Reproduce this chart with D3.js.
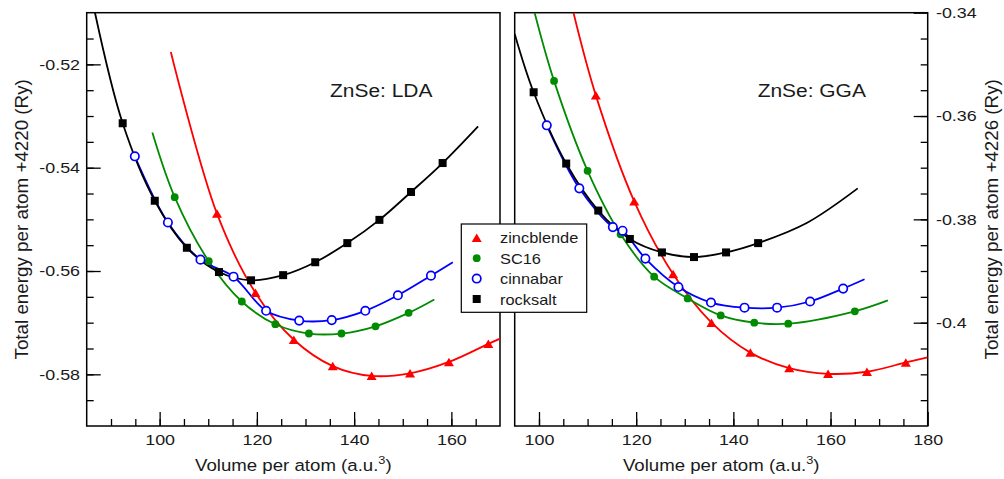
<!DOCTYPE html>
<html>
<head>
<meta charset="utf-8">
<script src="https://cdn.jsdelivr.net/npm/d3@7"></script>
<style>
body { margin: 0; background: #fff; }
svg { display: block; }
text { font-family: "Liberation Sans", Arial, sans-serif; fill: #1a1a1a; }
</style>
</head>
<body>
<script>
// Size of the page
var width = 1004;
var height = 479;

// Series names shown in the legend
var seriesNames = ["zincblende", "SC16", "cinnabar", "rocksalt"];

// Tick labels
var xTicksLda = [100, 120, 140, 160];
var xTicksGga = [100, 120, 140, 160, 180];
var yTicksLda = [-0.58, -0.56, -0.54, -0.52];
var yTicksGga = [-0.4, -0.38, -0.36, -0.34];

// LDA points (volume, energy)
var zbLdaV = [111.8, 119.7, 127.6, 135.6, 143.6, 151.5, 159.5, 167.6];
var zbLdaE = [-0.5489, -0.5642, -0.5733, -0.5784, -0.5803, -0.5798, -0.5776, -0.5741];
var scLdaV = [103.1, 110.1, 116.9, 123.8, 130.7, 137.4, 144.4, 151.2];
var scLdaE = [-0.5457, -0.5581, -0.5659, -0.5703, -0.5721, -0.5721, -0.5707, -0.5681];
var ciLdaV = [94.9, 101.7, 108.4, 115.2, 121.9, 128.7, 135.4, 142.3, 149.0, 155.8];
var ciLdaE = [-0.5378, -0.5506, -0.5578, -0.5611, -0.5677, -0.5696, -0.5695, -0.5677, -0.5647, -0.5609];
var rsLdaV = [92.4, 99.0, 105.6, 112.2, 118.8, 125.4, 132.0, 138.6, 145.2, 151.7, 158.2];
var rsLdaE = [-0.5314, -0.5464, -0.5555, -0.5602, -0.5618, -0.5608, -0.5583, -0.5546, -0.5501, -0.5447, -0.5391];

// GGA points (volume, energy)
var zbGgaV = [111.7, 119.6, 127.6, 135.5, 143.5, 151.5, 159.5, 167.5, 175.5];
var zbGgaE = [-0.3560, -0.3765, -0.3906, -0.4000, -0.4058, -0.4088, -0.4099, -0.4095, -0.4077];
var scGgaV = [103.1, 110.0, 116.8, 123.7, 130.6, 137.4, 144.3, 151.3, 165.0];
var scGgaE = [-0.3532, -0.3706, -0.3829, -0.3911, -0.3953, -0.3986, -0.4000, -0.4002, -0.3978];
var ciGgaV = [101.6, 108.3, 115.2, 117.2, 121.9, 128.7, 135.4, 142.3, 149.0, 155.8, 162.6];
var ciGgaE = [-0.3618, -0.3740, -0.3815, -0.3822, -0.3876, -0.3931, -0.3961, -0.3971, -0.3971, -0.3959, -0.3934];
var rsGgaV = [98.9, 105.6, 112.2, 118.7, 125.3, 131.9, 138.5, 145.1];
var rsGgaE = [-0.3554, -0.3692, -0.3783, -0.3838, -0.3864, -0.3873, -0.3864, -0.3846];

// Where each fitted curve starts and the points it runs through after the last marker
// null = starts at first point
var ldaFitStart = [[102.3, -0.5176], [98.5, -0.5332], null, [86.7, -0.51]];
var ldaFitEnd = [[[170, -0.5731]], [[156.5, -0.5655]], [[160.3, -0.5583]], [[165.5, -0.532]]];
var ggaFitStart = [[107.1, -0.34], [99.1, -0.34], null, [95, -0.3441]];
var ggaFitEnd = [[[180, -0.4067]], [[171.8, -0.3957]], [[167.0, -0.3916]], [[155.1, -0.3807], [165.6, -0.374]]];

var colors = ["#ff0000", "#008b00", "#0000ff", "#000000"];
var shapes = ["triangle", "dot", "ring", "square"];

var plotTop = 12.7, plotBottom = 426;

var panels = [
  {title: "ZnSe: LDA", titleX: 330, xDomain: [85, 170], yDomain: [-0.59, -0.51], x0: 86.7, x1: 500,
   xTicks: xTicksLda, yTicks: yTicksLda, side: "left", yLabel: "Total energy per atom +4220 (Ry)", yLabelX: 27.5,
   v: [zbLdaV, scLdaV, ciLdaV, rsLdaV], e: [zbLdaE, scLdaE, ciLdaE, rsLdaE], fitStart: ldaFitStart, fitEnd: ldaFitEnd},
  {title: "ZnSe: GGA", titleX: 757.7, xDomain: [95, 180], yDomain: [-0.42, -0.34], x0: 514.7, x1: 927.7,
   xTicks: xTicksGga, yTicks: yTicksGga, side: "right", yLabel: "Total energy per atom +4226 (Ry)", yLabelX: 997.5,
   v: [zbGgaV, scGgaV, ciGgaV, rsGgaV], e: [zbGgaE, scGgaE, ciGgaE, rsGgaE], fitStart: ggaFitStart, fitEnd: ggaFitEnd}
];

var svg = d3.select("body").append("svg")
  .attr("width", width)
  .attr("height", height);

// text that is a bit wider than the font, like the reference
function wideText(g, x, y, str, size, sx, anchor) {
  return g.append("text")
    .attr("transform", "translate(" + x + "," + y + ") scale(" + sx + ",1)")
    .attr("font-size", size)
    .attr("text-anchor", anchor || "start")
    .text(str);
}

function drawMarker(g, shape, color, cx, cy) {
  if (shape == "triangle") {
    g.append("path")
      .attr("d", "M" + (cx - 5) + "," + (cy + 4.2) + "L" + (cx + 5) + "," + (cy + 4.2) + "L" + cx + "," + (cy - 4.3) + "Z")
      .attr("fill", color);
  } else if (shape == "dot") {
    g.append("circle").attr("cx", cx).attr("cy", cy).attr("r", 3.9).attr("fill", color);
  } else if (shape == "ring") {
    g.append("circle").attr("cx", cx).attr("cy", cy).attr("r", 4.2)
      .attr("fill", "#fff").attr("stroke", color).attr("stroke-width", 1.7);
  } else {
    g.append("rect").attr("x", cx - 4).attr("y", cy - 4).attr("width", 8).attr("height", 8).attr("fill", color);
  }
}

var fmt = function(d) { return String(+d.toFixed(3)); };

panels.forEach(function(p, pi) {
  var x = d3.scaleLinear().domain(p.xDomain).range([p.x0, p.x1]);
  var y = d3.scaleLinear().domain(p.yDomain).range([plotBottom, plotTop]);
  var g = svg.append("g");

  // clip
  var clipId = "clip" + pi;
  svg.append("clipPath").attr("id", clipId).append("rect")
    .attr("x", p.x0).attr("y", plotTop).attr("width", p.x1 - p.x0).attr("height", plotBottom - plotTop);

  // minor ticks
  var xMinor = d3.range(p.xDomain[0] / 5 + 1, p.xDomain[1] / 5).map(function(i) { return i * 5; });
  var yMinor = d3.range(Math.round(p.yDomain[0] / 0.005) + 1, Math.round(p.yDomain[1] / 0.005)).map(function(i) { return i * 0.005; });

  g.append("g").attr("transform", "translate(0," + plotBottom + ")")
    .call(d3.axisBottom(x).tickValues(xMinor).tickSize(-7).tickFormat(""));
  g.append("g").attr("transform", "translate(0," + plotBottom + ")")
    .call(d3.axisBottom(x).tickValues(p.xTicks).tickSize(-14).tickPadding(8).tickFormat(fmt));

  var yAxisMinor = p.side == "left" ? d3.axisLeft(y) : d3.axisRight(y);
  var yAxis = p.side == "left" ? d3.axisLeft(y) : d3.axisRight(y);
  var yPos = p.side == "left" ? p.x0 : p.x1;
  g.append("g").attr("transform", "translate(" + yPos + ",0)")
    .call(yAxisMinor.tickValues(yMinor).tickSize(-7).tickFormat(""));
  g.append("g").attr("transform", "translate(" + yPos + ",0)")
    .call(yAxis.tickValues(p.yTicks).tickSize(-14).tickPadding(p.side == "left" ? 5.6 : 6.9).tickFormat(fmt));

  g.selectAll(".domain").remove();
  g.selectAll(".tick line").attr("stroke", "#000").attr("stroke-width", 1.3);
  g.selectAll(".tick text")
    .attr("font-size", 14.9)
    .attr("font-family", "Liberation Sans, Arial, sans-serif")
    .attr("fill", "#1a1a1a")
    .attr("transform", "scale(1.2,1)");

  // frame
  g.append("rect")
    .attr("x", p.x0).attr("y", plotTop)
    .attr("width", p.x1 - p.x0).attr("height", plotBottom - plotTop)
    .attr("fill", "none").attr("stroke", "#000").attr("stroke-width", 1.5);

  // fitted curves
  var line = d3.line()
    .x(function(d) { return x(d[0]); })
    .y(function(d) { return y(d[1]); })
    .curve(d3.curveCatmullRom.alpha(0.5));

  var curves = g.append("g").attr("clip-path", "url(#" + clipId + ")");
  p.v.forEach(function(vs, si) {
    var pts = vs.map(function(v, k) { return [v, p.e[si][k]]; });
    if (p.fitStart[si]) pts.unshift(p.fitStart[si]);
    pts = pts.concat(p.fitEnd[si]);
    curves.append("path")
      .attr("d", line(pts))
      .attr("fill", "none")
      .attr("stroke", colors[si])
      .attr("stroke-width", 1.8);
  });

  // markers
  var marks = g.append("g").attr("clip-path", "url(#" + clipId + ")");
  p.v.forEach(function(vs, si) {
    vs.forEach(function(v, k) {
      drawMarker(marks, shapes[si], colors[si], x(v), y(p.e[si][k]));
    });
  });

  // title
  wideText(g, p.titleX, 96.5, p.title, 17.6, 1.19, "start");

  // x label with superscript
  var xl = g.append("text")
    .attr("transform", "translate(" + ((p.x0 + p.x1) / 2) + ",471) scale(1.11,1)")
    .attr("font-size", 16.8)
    .attr("text-anchor", "middle");
  xl.append("tspan").text("Volume per atom (a.u.");
  xl.append("tspan").attr("font-size", 11.5).attr("dy", -7.5).text("3");
  xl.append("tspan").attr("dy", 7.5).text(")");

  // y label
  g.append("text")
    .attr("transform", "translate(" + p.yLabelX + "," + ((plotTop + plotBottom) / 2) + ") rotate(-90)")
    .attr("font-size", 18.8)
    .attr("text-anchor", "middle")
    .text(p.yLabel);
});

// legend on top of both panels
var legend = svg.append("g");
legend.append("rect")
  .attr("x", 461.3).attr("y", 224)
  .attr("width", 125.4).attr("height", 88.3)
  .attr("fill", "#fff").attr("stroke", "#000").attr("stroke-width", 1.2);

var rowY = d3.scaleLinear().domain([0, 3]).range([237.7, 299]);
seriesNames.forEach(function(name, i) {
  drawMarker(legend, shapes[i], colors[i], 476.7, rowY(i));
  wideText(legend, 500, rowY(i) + 5.5, name, 15.4, 1.065, "start");
});
</script>
</body>
</html>
